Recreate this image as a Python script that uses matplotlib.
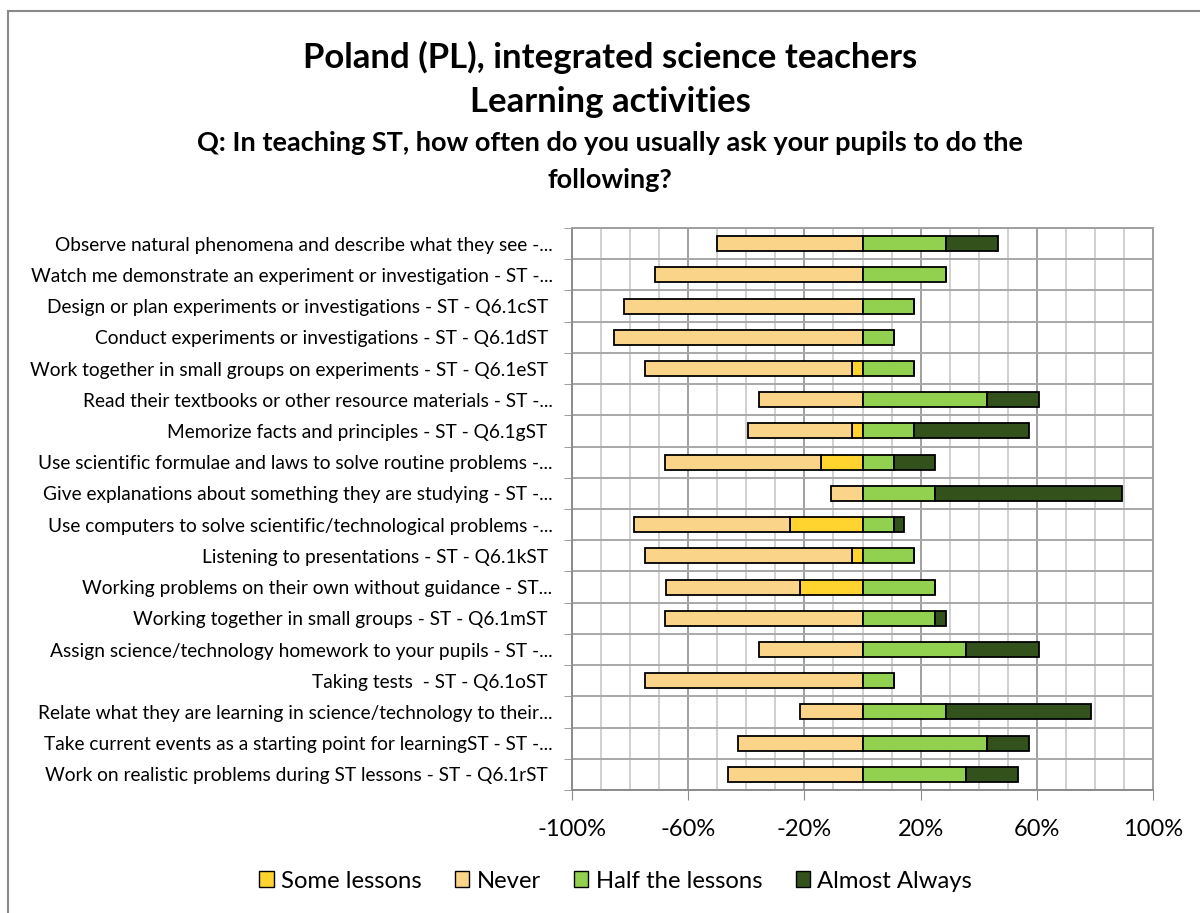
import numpy as np
import matplotlib.pyplot as plt
from matplotlib.patches import Patch, Rectangle

# activities, top to bottom
activities = [
    "Observe natural phenomena and describe what they see -...",
    "Watch me demonstrate an experiment or investigation - ST -...",
    "Design or plan experiments or investigations - ST - Q6.1cST ",
    "Conduct experiments or investigations - ST - Q6.1dST ",
    "Work together in small groups on experiments - ST - Q6.1eST ",
    "Read their textbooks or other resource materials - ST -...",
    "Memorize facts and principles - ST - Q6.1gST ",
    "Use scientific formulae and laws to solve routine problems -...",
    "Give explanations about something they are studying - ST -...",
    "Use computers to solve scientific/technological problems -...",
    "Listening to presentations - ST - Q6.1kST ",
    "Working problems on their own without guidance - ST...",
    "Working together in small groups - ST - Q6.1mST ",
    "Assign science/technology homework to your pupils - ST -...",
    "Taking tests  - ST - Q6.1oST ",
    "Relate what they are learning in science/technology to their...",
    "Take current events as a starting point for learningST - ST -...",
    "Work on realistic problems during ST lessons - ST - Q6.1rST ",
]

# percentages (some lessons / never drawn to the left of zero)
some_lessons = [0, 0, 0, 0, 3.6, 0, 3.6, 14.3, 0, 25.0, 3.6, 21.4, 0, 0, 0, 0, 0, 0]
never = [50.0, 71.4, 82.1, 85.7, 71.4, 35.7, 35.7, 53.6, 10.7, 53.6, 71.4, 46.4,
         67.9, 35.7, 75.0, 21.4, 42.9, 46.4]
half_lessons = [28.6, 28.6, 17.9, 10.7, 17.9, 42.9, 17.9, 10.7, 25.0, 10.7, 17.9, 25.0,
                25.0, 35.7, 10.7, 28.6, 42.9, 35.7]
almost_always = [17.9, 0, 0, 0, 0, 17.9, 39.3, 14.3, 64.3, 3.6, 0, 0,
                 3.6, 25.0, 0, 50.0, 14.3, 17.9]

legend_labels = ["Some lessons", "Never", "Half the lessons", "Almost Always"]
colors = ["#FFD42F", "#FAD589", "#92D050", "#33511A"]
tick_vals = [-100, -60, -20, 20, 60, 100]

plt.rcParams['font.family'] = ['Lato', 'DejaVu Sans']

fig = plt.figure(figsize=(12, 9.13), dpi=100)
ax = fig.add_axes([572 / 1200, 1 - 790 / 913, 581 / 1200, 562 / 913])

y = np.arange(len(activities))
some = np.array(some_lessons)
nev = np.array(never)
half = np.array(half_lessons)
aa = np.array(almost_always)

kw = dict(height=0.48, edgecolor="black", linewidth=1.3, zorder=3)
ax.barh(y, -some, left=0, color=colors[0], **kw)
ax.barh(y, -nev, left=-some, color=colors[1], **kw)
ax.barh(y, half, left=0, color=colors[2], **kw)
ax.barh(y, aa, left=half, color=colors[3], **kw)

ax.set_xlim(-100, 100)
ax.set_ylim(len(activities) - 0.5, -0.5)

ax.set_xticks(tick_vals)
ax.set_xticklabels([f"{v}%" for v in tick_vals], fontsize=17)
ax.set_xticks(np.arange(-100, 101, 10), minor=True)
ax.set_yticks(y)
ax.set_yticklabels(activities, fontsize=13.8)
ax.set_yticks(np.arange(-0.5, len(activities), 1), minor=True)

ax.tick_params(axis="x", which="major", length=7, color="#8c8c8c", pad=14)
ax.tick_params(axis="x", which="minor", length=0)
ax.tick_params(axis="y", which="major", length=0, pad=14)
ax.tick_params(axis="y", which="minor", length=6, color="#8c8c8c")

ax.grid(True, axis="x", which="minor", color="#c8c8c8", linewidth=1.2, zorder=0)
ax.grid(True, axis="x", which="major", color="#a0a0a0", linewidth=1.4, zorder=0)
ax.grid(True, axis="y", which="minor", color="#a8a8a8", linewidth=1.4, zorder=0)
ax.grid(False, axis="y", which="major")
ax.set_axisbelow(True)

for side in ["top", "right"]:
    ax.spines[side].set_color("#a0a0a0")
    ax.spines[side].set_linewidth(1.4)
for side in ["left", "bottom"]:
    ax.spines[side].set_color("#8c8c8c")
    ax.spines[side].set_linewidth(1.4)

fig.text(0.5083, 1 - 57 / 913, "Poland (PL), integrated science teachers",
         ha="center", va="center", fontsize=25, fontweight="bold")
fig.text(0.5083, 1 - 102 / 913, "Learning activities",
         ha="center", va="center", fontsize=25, fontweight="bold")
fig.text(0.5083, 1 - 143 / 913,
         "Q: In teaching ST, how often do you usually ask your pupils to do the",
         ha="center", va="center", fontsize=19.5, fontweight="bold")
fig.text(0.5083, 1 - 180 / 913, "following?",
         ha="center", va="center", fontsize=19.5, fontweight="bold")

handles = [Patch(facecolor=c, edgecolor="black", linewidth=1.0) for c in colors]
fig.legend(handles, legend_labels, loc="center", bbox_to_anchor=(0.513, 1 - 881 / 913),
           ncol=4, frameon=False, fontsize=17.2, handlelength=0.6, handleheight=0.6,
           handletextpad=0.3, columnspacing=1.4)

# chart area border
fig.patches.append(Rectangle((8 / 1200, -0.01), 1.02, 1 - 11 / 913 + 0.01,
                             transform=fig.transFigure, fill=False,
                             edgecolor="#8a8a8a", linewidth=1.5))

fig.savefig("out.png", dpi=100)
